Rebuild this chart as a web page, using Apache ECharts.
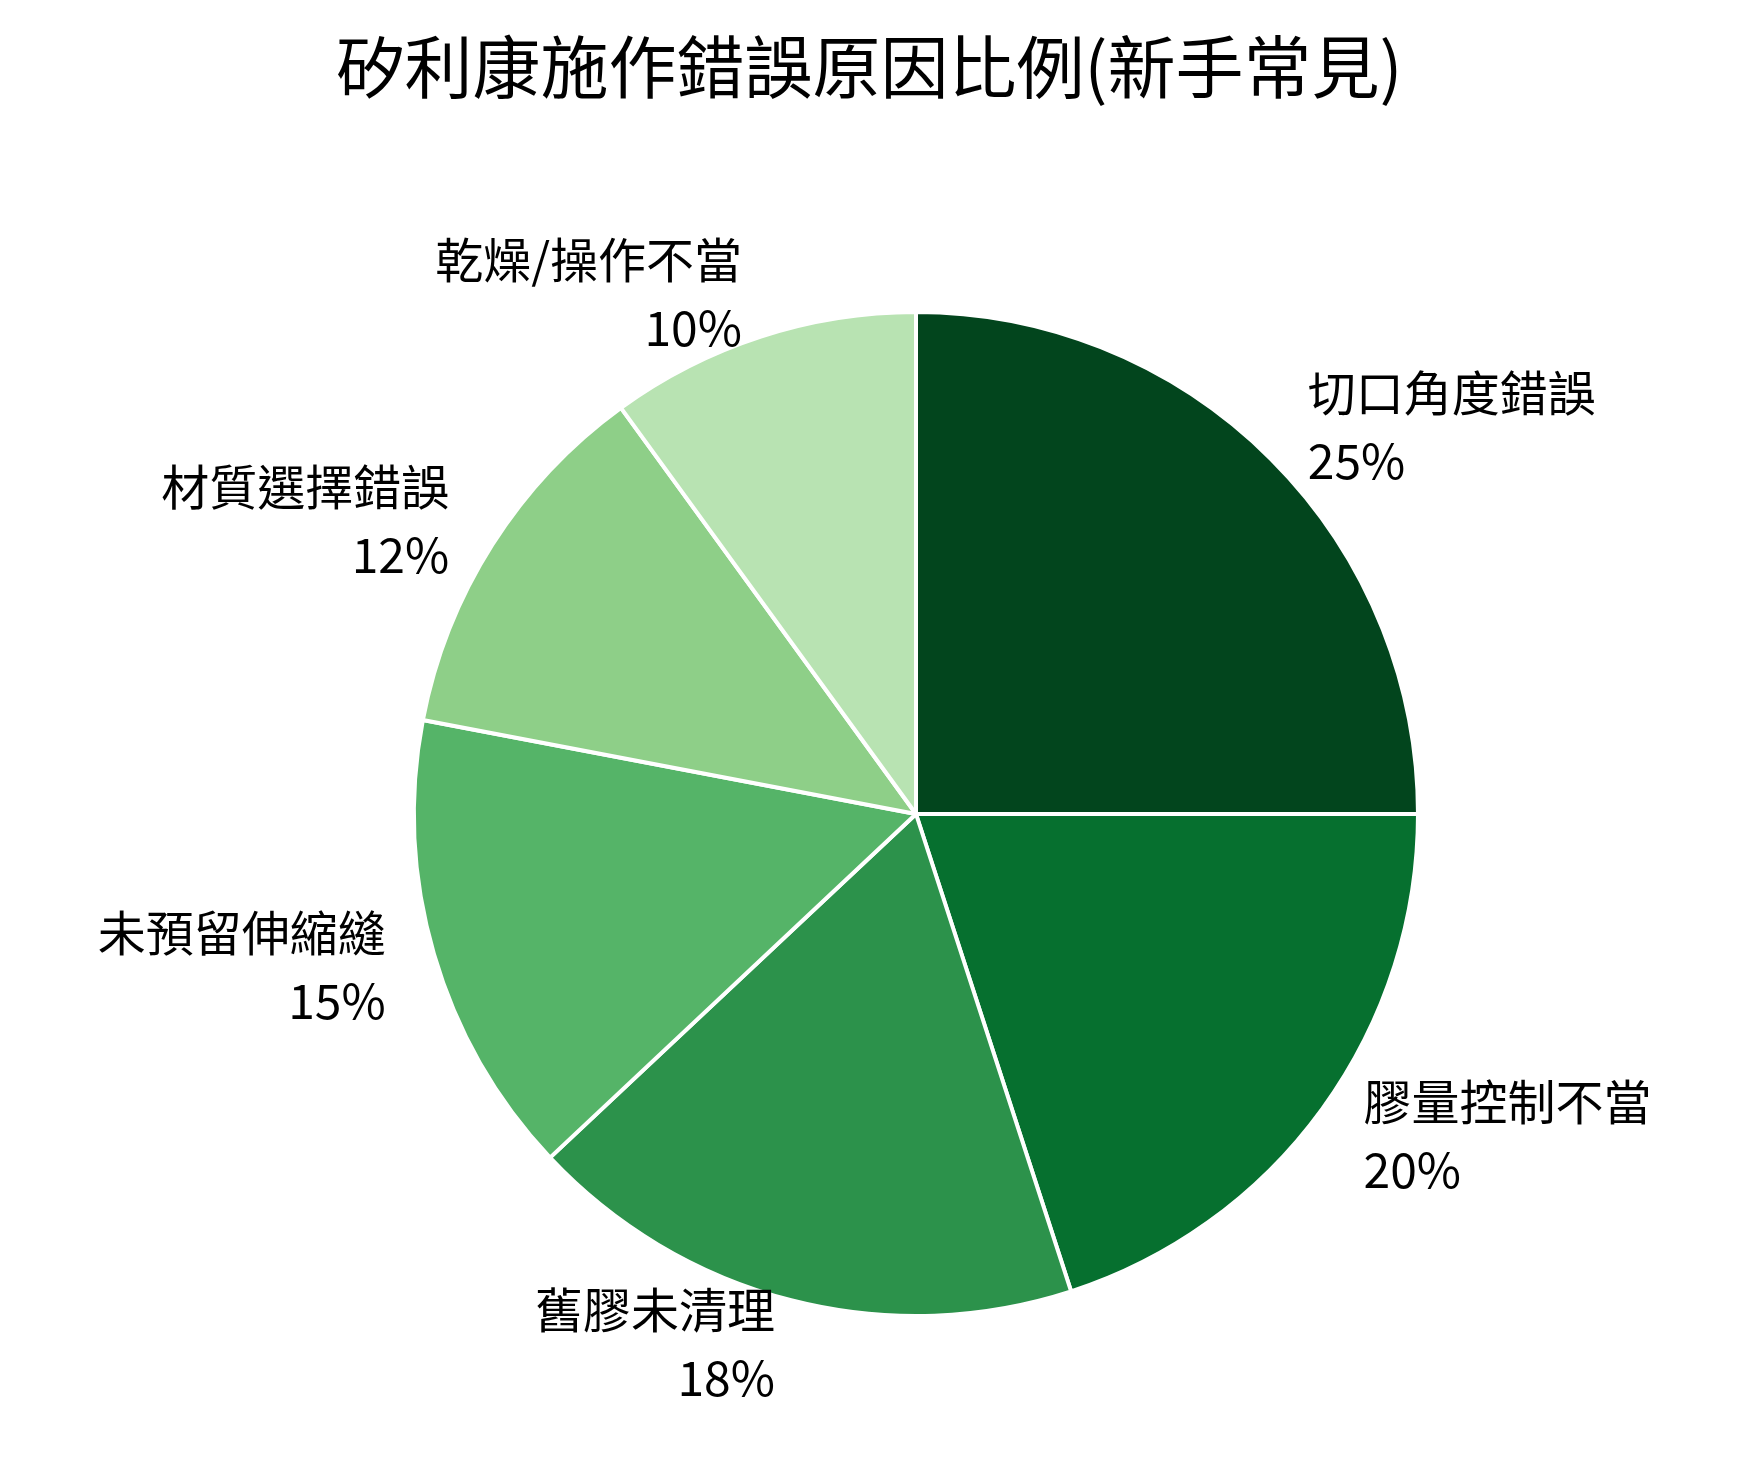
<!DOCTYPE html>
<html><head><meta charset="utf-8">
<script src="https://cdn.jsdelivr.net/npm/echarts@6/dist/echarts.min.js"></script>
<style>html,body{margin:0;background:#fff}#c{width:1739px;height:1469px}</style>
</head><body><div id="c"></div>
<script>
const categories = ['切口角度錯誤','膠量控制不當','舊膠未清理','未預留伸縮縫','材質選擇錯誤','乾燥/操作不當'];
const values = [25,20,18,15,12,10];
const colors = ['#02451d','#06702f','#2c924b','#55b468','#8ecf88','#b8e3b2'];
const chart = echarts.init(document.getElementById('c'));
chart.setOption({
  animation:false,
  title:{text:'矽利康施作錯誤原因比例(新手常見)',left:'center',top:28,
    textStyle:{fontFamily:'Noto Sans CJK TC',fontSize:68,fontWeight:'normal',color:'#000'}},
  series:[{
    type:'pie',center:[916,814],radius:[0,502],startAngle:90,clockwise:true,
    data:categories.map((n,i)=>({name:n,value:values[i],itemStyle:{color:colors[i]}})),
    itemStyle:{borderColor:'#fff',borderWidth:4},
    label:{show:true,position:'outside',formatter:'{b}\n{c}%',fontFamily:'Noto Sans CJK TC',
      fontSize:48,color:'#000',lineHeight:68},
    labelLine:{show:false,length:45,length2:0}
  }]
});
</script></body></html>
